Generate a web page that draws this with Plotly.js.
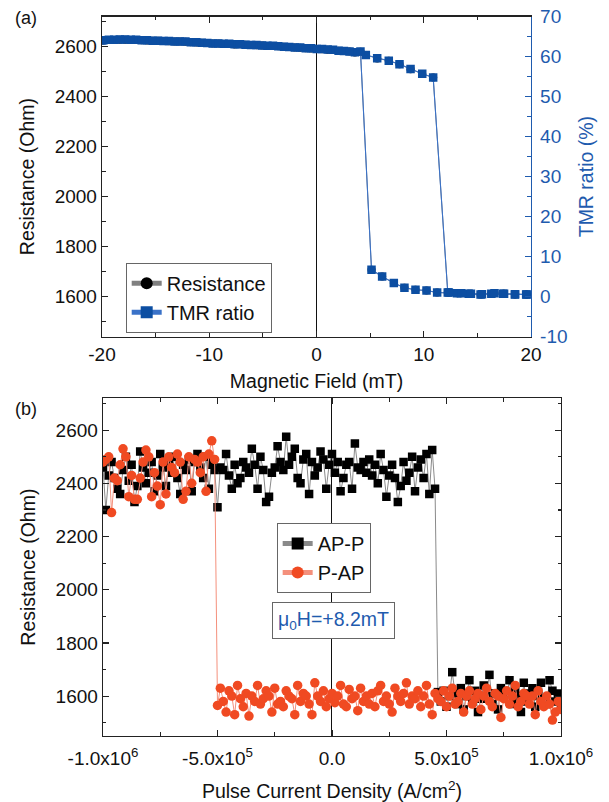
<!DOCTYPE html>
<html>
<head>
<meta charset="utf-8">
<script src="https://cdn.plot.ly/plotly-3.0.1.min.js"></script>
<style>
  html, body { margin: 0; padding: 0; background: #ffffff; }
  #chart { width: 609px; height: 802px; }
</style>
</head>
<body>
<div id="chart"></div>
<script>
// ---------- Panel (a): field sweep ----------
const fieldTickVals = [-20, -10, 0, 10, 20];
const fieldTickText = ['-20', '-10', '0', '10', '20'];
const tmrTickVals = [-10, 0, 10, 20, 30, 40, 50, 60, 70];
const tmrTickText = ['-10', '0', '10', '20', '30', '40', '50', '60', '70'];

const fieldUp = [-19.88, -18.86, -17.84, -16.82, -15.80, -14.78, -13.76, -12.74, -11.72, -10.70,
  -9.68, -8.66, -7.64, -6.62, -5.60, -4.58, -3.56, -2.54, -1.52, -0.50,
  0.52, 1.54, 2.56, 3.58, 4.60, 5.66, 6.74, 7.74, 8.77, 9.86, 10.88,
  12.24, 13.10, 14.20, 15.30, 16.30, 17.40, 18.50, 19.60];
const resistanceUp = [2625, 2627, 2628, 2627, 2625, 2624, 2622, 2621, 2618, 2616,
  2613, 2611, 2609, 2608, 2606, 2603, 2602, 2599, 2596, 2593,
  2590, 2587, 2583, 2577, 2567, 2553, 2544, 2530, 2510, 2491, 2477,
  1616, 1613, 1611, 1608, 1611, 1611, 1608, 1608];
const tmrUp = [64.1, 64.2, 64.3, 64.2, 64.1, 64.0, 63.9, 63.8, 63.6, 63.5,
  63.3, 63.2, 63.1, 63.0, 62.9, 62.7, 62.6, 62.4, 62.3, 62.1,
  61.9, 61.7, 61.4, 61.1, 60.4, 59.6, 59.0, 58.1, 56.9, 55.7, 54.8,
  1.0, 0.8, 0.7, 0.5, 0.7, 0.7, 0.5, 0.5];

const fieldDown = [19.55, 18.52, 17.49, 16.60, 15.43, 14.40, 13.50, 12.34, 11.25, 10.26,
  9.23, 8.20, 7.21, 6.12, 5.13, 4.10, 3.08, 2.06, 1.04, 0.02,
  -1.00, -2.02, -3.04, -4.06, -5.08, -6.10, -7.12, -8.14, -9.16, -10.18,
  -11.20, -12.22, -13.24, -14.26, -15.28, -16.30, -17.32, -18.34, -19.36, -20.00];
const resistanceDown = [1608, 1609, 1611, 1613, 1609, 1611, 1613, 1616, 1616, 1624,
  1627, 1635, 1654, 1680, 1707, 2580, 2581, 2584, 2588, 2591,
  2594, 2597, 2600, 2603, 2605, 2607, 2610, 2611, 2613, 2615,
  2617, 2620, 2621, 2623, 2624, 2626, 2627, 2628, 2627, 2626];
const tmrDown = [0.5, 0.6, 0.7, 0.8, 0.6, 0.7, 0.8, 1.0, 1.0, 1.5,
  1.7, 2.2, 3.4, 5.0, 6.7, 61.3, 61.3, 61.5, 61.8, 61.9,
  62.1, 62.3, 62.5, 62.7, 62.8, 62.9, 63.1, 63.2, 63.3, 63.4,
  63.6, 63.8, 63.8, 63.9, 64.0, 64.1, 64.2, 64.3, 64.2, 64.1];

// ---------- Panel (b): current-pulse switching ----------
const currentStart = -1.0e6;      // first pulse (A/cm^2)
const currentStep = 1.25e4;       // pulse increment (A/cm^2)
const currentTickVals = [-1.0e6, -5.0e5, 0, 5.0e5, 1.0e6];
const currentTickText = ['-1.0x10<sup>6</sup>', '-5.0x10<sup>5</sup>', '0.0', '5.0x10<sup>5</sup>', '1.0x10<sup>6</sup>'];

const apHigh = [2460, 2300, 2430, 2480, 2420, 2380, 2360, 2450, 2500, 2410,
  2470, 2330, 2390, 2520, 2460, 2400, 2440, 2480, 2370, 2430,
  2510, 2460, 2390, 2480, 2440, 2500, 2420, 2360, 2470, 2450,
  2490, 2370, 2480, 2510, 2460, 2420, 2500, 2380, 2470, 2450,
  2310, 2460, 2450, 2510, 2430, 2380, 2470, 2400, 2420, 2480,
  2460, 2440, 2530, 2470, 2380, 2500, 2450, 2330, 2350, 2440,
  2460, 2540, 2480, 2450, 2575, 2470, 2500, 2530, 2420, 2400,
  2490, 2510, 2360, 2480, 2430, 2460, 2520, 2490, 2380, 2470,
  2510, 2440, 2480, 2370, 2420, 2470, 2480, 2380, 2550, 2460,
  2450, 2480, 2440, 2490, 2430, 2470, 2400, 2510, 2450, 2350,
  2430, 2470, 2420, 2330, 2390, 2480, 2410, 2440, 2500, 2370,
  2460, 2490, 2420, 2510, 2360, 2525, 2380];
const apLow = [1615, 1580, 1620, 1560, 1600, 1690, 1610, 1570, 1630, 1550,
  1600, 1660, 1580, 1620, 1540, 1590, 1640, 1600, 1680, 1570,
  1610, 1550, 1630, 1600, 1590, 1660, 1570, 1620, 1600, 1540,
  1650, 1580, 1610, 1630, 1560, 1600, 1650, 1590, 1570, 1660,
  1620, 1580, 1610, 1560];
const papHigh = [2480, 2490, 2500, 2290, 2420, 2410, 2470, 2530, 2500, 2350,
  2430, 2340, 2340, 2420, 2480, 2525, 2500, 2350, 2440, 2390,
  2320, 2480, 2360, 2500, 2460, 2440, 2510, 2480, 2340, 2370,
  2500, 2400, 2490, 2480, 2440, 2500, 2370, 2510, 2560, 2490];
const papLow = [1565, 1630, 1580, 1540, 1620, 1600, 1530, 1640, 1590, 1560,
  1610, 1525, 1600, 1580, 1640, 1570, 1590, 1620, 1600, 1540,
  1630, 1570, 1580, 1560, 1620, 1600, 1590, 1530, 1640, 1580,
  1610, 1600, 1570, 1530, 1650, 1600, 1580, 1620, 1560, 1590,
  1610, 1575, 1600, 1640, 1570, 1560, 1625, 1590, 1600, 1545,
  1630, 1580, 1600, 1570, 1610, 1560, 1620, 1640, 1580, 1600,
  1570, 1540, 1630, 1600, 1580, 1610, 1650, 1570, 1600, 1590,
  1620, 1560, 1600, 1640, 1570, 1530, 1610, 1590, 1580, 1620,
  1560, 1600, 1630, 1570, 1580, 1610, 1540, 1600, 1620, 1570,
  1590, 1610, 1550, 1600, 1630, 1580, 1560, 1610, 1600, 1520,
  1590, 1620, 1570, 1600, 1640, 1560, 1580, 1610, 1600, 1570,
  1600, 1530, 1620, 1580, 1560, 1600, 1570, 1510, 1540, 1580,
  1550];

// ---------- styling ----------
const FONT = '"Liberation Sans", Arial, "DejaVu Sans", sans-serif';
const BLUE = '#0C4EA2';
const BLUE_AXIS = '#1F5BAE';
const BLUE_LINE = '#3A72C8';
const RED = '#F04A22';
const RED_LINE = '#F4907C';
const AXIS = '#222222';
const TICK_SIZE = 19;
const TITLE_SIZE = 19.5;

const traces = [
  {
    name: 'Resistance', x: fieldUp.concat(fieldDown), y: resistanceUp.concat(resistanceDown),
    xaxis: 'x', yaxis: 'y', type: 'scatter', mode: 'lines+markers',
    line: {color: '#808080', width: 1},
    marker: {symbol: 'circle', color: '#000000', size: 8},
    legend: 'legend'
  },
  {
    name: 'TMR ratio', x: fieldUp.concat(fieldDown), y: tmrUp.concat(tmrDown),
    xaxis: 'x', yaxis: 'y2', type: 'scatter', mode: 'lines+markers',
    line: {color: BLUE_LINE, width: 1.1},
    marker: {symbol: 'square', color: BLUE, size: 8.5},
    legend: 'legend'
  },
  {
    name: 'AP-P', x0: currentStart, dx: currentStep, y: apHigh.concat(apLow),
    xaxis: 'x2', yaxis: 'y3', type: 'scatter', mode: 'lines+markers',
    line: {color: '#8a8a8a', width: 1},
    marker: {symbol: 'square', color: '#000000', size: 8.5},
    legend: 'legend2'
  },
  {
    name: 'P-AP', x0: currentStart, dx: currentStep, y: papHigh.concat(papLow),
    xaxis: 'x2', yaxis: 'y3', type: 'scatter', mode: 'lines+markers',
    line: {color: RED_LINE, width: 1},
    marker: {symbol: 'circle', color: RED, size: 9.5},
    legend: 'legend2'
  }
];

const axisCommon = {
  showgrid: false, showline: true, linecolor: AXIS, linewidth: 1.3,
  ticks: 'inside', ticklen: 6, tickwidth: 1.2, tickcolor: AXIS,
  tickfont: {family: FONT, size: TICK_SIZE, color: '#111'},
  zeroline: false
};

const layout = {
  width: 609, height: 802,
  margin: {l: 0, r: 0, t: 0, b: 0},
  paper_bgcolor: '#ffffff', plot_bgcolor: '#ffffff',
  font: {family: FONT, color: '#111'},
  showlegend: true,
  xaxis: Object.assign({}, axisCommon, {
    domain: [0.1675, 0.8719], anchor: 'y', range: [-20, 20],
    tickmode: 'array', tickvals: fieldTickVals, ticktext: fieldTickText,
    minor: {tickmode: 'linear', tick0: 0, dtick: 5, ticks: 'inside', ticklen: 3.5, tickcolor: AXIS, tickwidth: 1.1},
    mirror: 'ticks',
    zeroline: true, zerolinecolor: '#111', zerolinewidth: 1,
    title: {text: 'Magnetic Field (mT)', font: {family: FONT, size: TITLE_SIZE, color: '#111'}, standoff: 10}
  }),
  yaxis: Object.assign({}, axisCommon, {
    domain: [0.5804, 0.9792], anchor: 'x', range: [1440, 2720],
    tickmode: 'linear', tick0: 1600, dtick: 200,
    minor: {dtick: 100, ticks: 'inside', ticklen: 3.5, tickcolor: AXIS, tickwidth: 1.1},
    title: {text: 'Resistance (Ohm)', font: {family: FONT, size: TITLE_SIZE, color: '#111'}, standoff: 14}
  }),
  yaxis2: Object.assign({}, axisCommon, {
    overlaying: 'y', side: 'right', anchor: 'x', range: [-10, 70],
    linecolor: BLUE_AXIS, tickcolor: BLUE_AXIS,
    tickfont: {family: FONT, size: TICK_SIZE, color: BLUE_AXIS},
    tickmode: 'array', tickvals: tmrTickVals, ticktext: tmrTickText,
    ticklabelstandoff: 4,
    minor: {tickmode: 'linear', tick0: 0, dtick: 5, ticks: 'inside', ticklen: 3.5, tickcolor: BLUE_AXIS, tickwidth: 1.1},
    title: {text: 'TMR ratio (%)', font: {family: FONT, size: TITLE_SIZE, color: BLUE_AXIS}, standoff: 12}
  }),
  xaxis2: Object.assign({}, axisCommon, {
    domain: [0.1691, 0.9212], anchor: 'y3', range: [-1.0e6, 1.0e6],
    tickmode: 'array', tickvals: currentTickVals, ticktext: currentTickText,
    ticklabelstandoff: 5,
    minor: {tickmode: 'linear', tick0: 0, dtick: 2.5e5, ticks: 'inside', ticklen: 3.5, tickcolor: AXIS, tickwidth: 1.1},
    mirror: 'ticks',
    zeroline: true, zerolinecolor: '#111', zerolinewidth: 1,
    title: {text: 'Pulse Current Density (A/cm<sup>2</sup>)', font: {family: FONT, size: TITLE_SIZE, color: '#111'}, standoff: 16}
  }),
  yaxis3: Object.assign({}, axisCommon, {
    domain: [0.0823, 0.5034], anchor: 'x2', range: [1450, 2720],
    tickmode: 'linear', tick0: 1600, dtick: 200,
    minor: {dtick: 100, ticks: 'inside', ticklen: 3.5, tickcolor: AXIS, tickwidth: 1.1},
    mirror: 'ticks',
    title: {text: 'Resistance (Ohm)', font: {family: FONT, size: TITLE_SIZE, color: '#111'}, standoff: 14}
  }),
  legend: {
    x: 0.2064, y: 0.6724, xanchor: 'left', yanchor: 'top',
    bgcolor: '#ffffff', bordercolor: '#666', borderwidth: 1,
    font: {family: FONT, size: 20, color: '#111'},
    tracegroupgap: 0, itemsizing: 'constant'
  },
  legend2: {
    x: 0.4543, y: 0.3479, xanchor: 'left', yanchor: 'top',
    bgcolor: '#ffffff', bordercolor: '#666', borderwidth: 1,
    font: {family: FONT, size: 20, color: '#111'},
    tracegroupgap: 0, itemsizing: 'constant'
  },
  annotations: [
    {text: '(a)', xref: 'paper', yref: 'paper', x: 0.022, y: 1 - 18 / 802, xanchor: 'left', yanchor: 'middle',
     showarrow: false, font: {family: FONT, size: 18, color: '#111'}},
    {text: '(b)', xref: 'paper', yref: 'paper', x: 0.022, y: 1 - 409 / 802, xanchor: 'left', yanchor: 'middle',
     showarrow: false, font: {family: FONT, size: 18, color: '#111'}},
    {text: 'μ<sub>0</sub>H=+8.2mT', xref: 'paper', yref: 'paper', x: 333.8 / 609, y: 1 - 620 / 802,
     xanchor: 'center', yanchor: 'middle', showarrow: false,
     bgcolor: '#ffffff', bordercolor: '#666', borderwidth: 1, borderpad: 5,
     font: {family: FONT, size: TITLE_SIZE, color: BLUE_AXIS}}
  ]
};

Plotly.newPlot('chart', traces, layout, {staticPlot: true, displayModeBar: false});
</script>
</body>
</html>
